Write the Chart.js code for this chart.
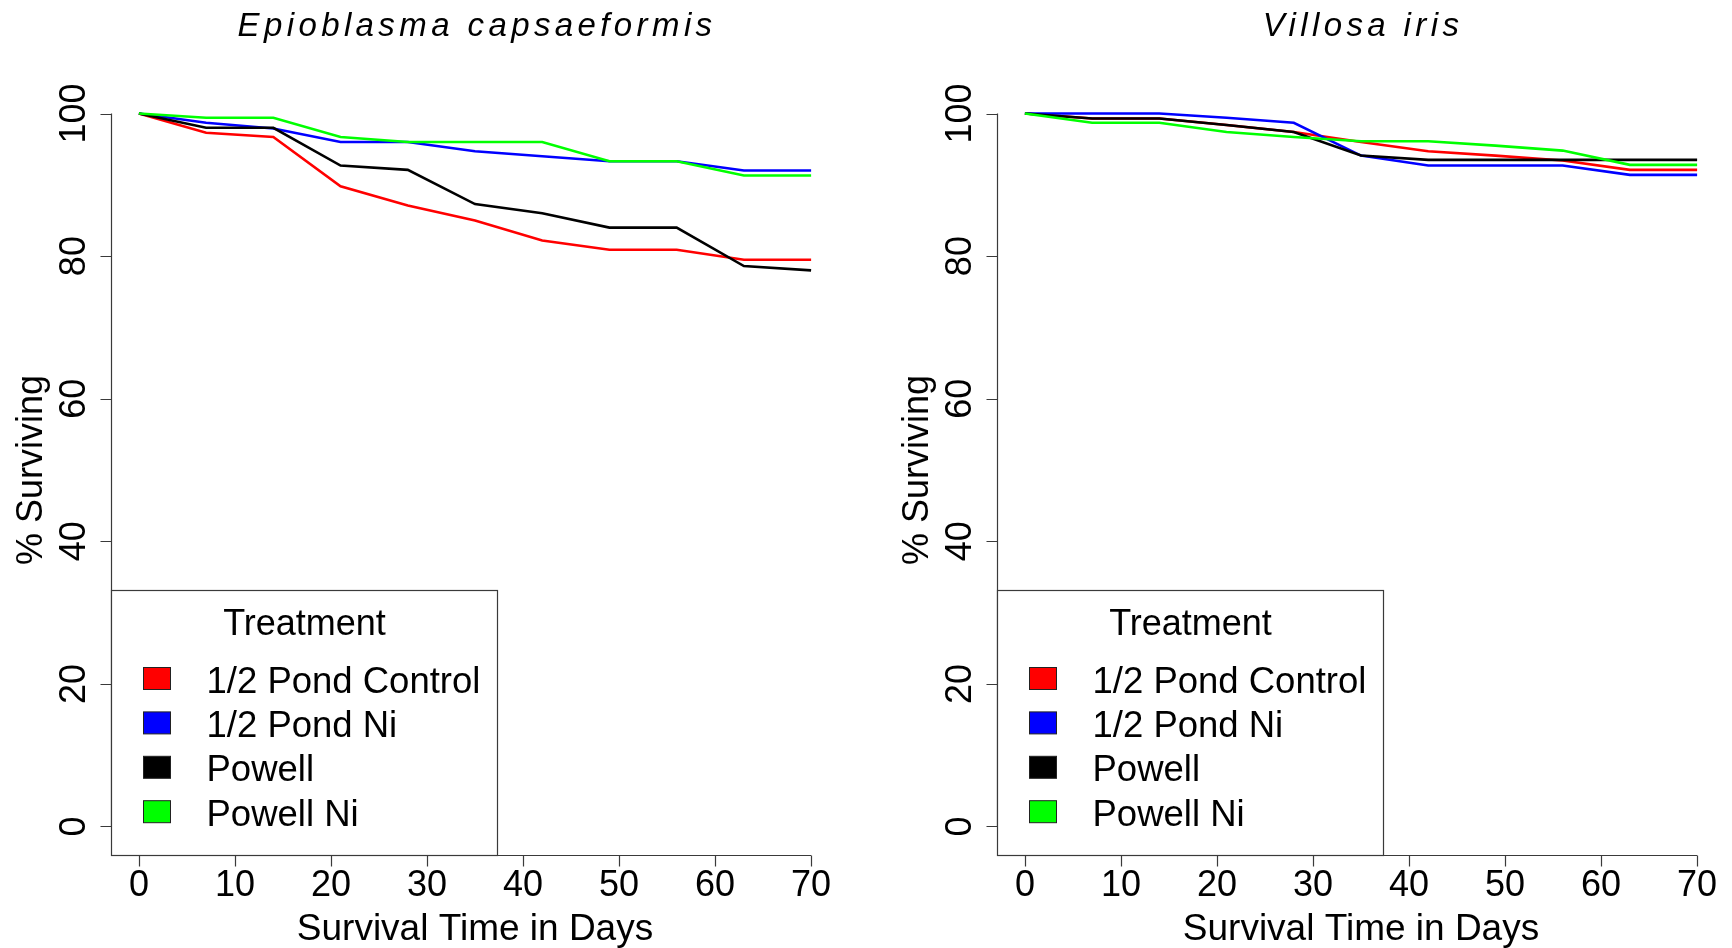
<!DOCTYPE html>
<html>
<head>
<meta charset="utf-8">
<script src="https://cdn.jsdelivr.net/npm/chart.js@4"></script>
<style>
  html, body { margin: 0; padding: 0; background: #fff; }
  .panel { position: absolute; top: 0; }
</style>
</head>
<body>
<canvas id="leftChart" class="panel" style="left:0px" width="866" height="948"></canvas>
<canvas id="rightChart" class="panel" style="left:866px" width="866" height="948"></canvas>
<script>
// survival sampled every week
const days = [0, 7, 14, 21, 28, 35, 42, 49, 56, 63, 70];
const treatments = ["1/2 Pond Control", "1/2 Pond Ni", "Powell", "Powell Ni"];
const lineColors = ["#ff0000", "#0000ff", "#000000", "#00ff00"];

// Epioblasma capsaeformis, % surviving
const epiControl  = [100, 97.3, 96.7, 89.8, 87.1, 85.0, 82.2, 80.9, 80.9, 79.5, 79.5];
const epiPondNi   = [100, 98.7, 97.9, 96.0, 96.0, 94.7, 94.0, 93.3, 93.3, 92.0, 92.0];
const epiPowell   = [100, 98.0, 98.0, 92.7, 92.1, 87.3, 86.0, 84.0, 84.0, 78.6, 78.0];
const epiPowellNi = [100, 99.4, 99.4, 96.7, 96.0, 96.0, 96.0, 93.3, 93.3, 91.3, 91.3];

// Villosa iris, % surviving
const vilControl  = [100, 99.3, 99.3, 98.4, 97.4, 96.0, 94.7, 94.1, 93.4, 92.1, 92.1];
const vilPondNi   = [100, 100, 100, 99.4, 98.7, 94.1, 92.7, 92.7, 92.7, 91.4, 91.4];
const vilPowell   = [100, 99.3, 99.3, 98.4, 97.4, 94.1, 93.5, 93.5, 93.5, 93.5, 93.5];
const vilPowellNi = [100, 98.7, 98.7, 97.4, 96.7, 96.1, 96.1, 95.5, 94.8, 92.8, 92.8];

const xTicks = [0, 10, 20, 30, 40, 50, 60, 70];
const yTicks = [0, 20, 40, 60, 80, 100];

const FONT = "'Liberation Sans', Arial, sans-serif";

// base-graphics look: axis lines only over the tick span, rotated y labels,
// legend box sitting in the bottom-left corner
const baseAxes = {
  id: "baseAxes",
  afterDraw(chart, args, opts) {
    const { ctx, chartArea: a } = chart;
    const x = chart.scales.x, y = chart.scales.y;
    const cx = (a.left + a.right) / 2;
    const cy = (a.top + a.bottom) / 2;
    ctx.save();
    ctx.strokeStyle = "#3a3a3a";
    ctx.lineWidth = 1.2;
    ctx.fillStyle = "#000";

    // x axis
    const xb = Math.round(a.bottom) + 0.5;
    ctx.beginPath();
    ctx.moveTo(x.getPixelForValue(xTicks[0]), xb);
    ctx.lineTo(x.getPixelForValue(xTicks[xTicks.length - 1]), xb);
    xTicks.forEach(t => {
      const px = Math.round(x.getPixelForValue(t)) + 0.5;
      ctx.moveTo(px, xb);
      ctx.lineTo(px, xb + 11);
    });
    // y axis
    const yl = Math.round(a.left) - 0.5;
    ctx.moveTo(yl, y.getPixelForValue(yTicks[0]));
    ctx.lineTo(yl, y.getPixelForValue(yTicks[yTicks.length - 1]));
    yTicks.forEach(t => {
      const py = Math.round(y.getPixelForValue(t)) + 0.5;
      ctx.moveTo(yl, py);
      ctx.lineTo(yl - 11, py);
    });
    ctx.stroke();

    ctx.font = "36px " + FONT;
    ctx.textAlign = "center";
    ctx.textBaseline = "alphabetic";
    xTicks.forEach(t => ctx.fillText(String(t), x.getPixelForValue(t), 896));
    yTicks.forEach(t => {
      ctx.save();
      ctx.translate(a.left - 27, y.getPixelForValue(t));
      ctx.rotate(-Math.PI / 2);
      ctx.fillText(String(t), 0, 0);
      ctx.restore();
    });

    // axis titles
    ctx.font = "37px " + FONT;
    ctx.fillText("Survival Time in Days", cx, 940);
    ctx.font = "36px " + FONT;
    ctx.save();
    ctx.translate(a.left - 70, cy);
    ctx.rotate(-Math.PI / 2);
    ctx.fillText("% Surviving", 0, 0);
    ctx.restore();

    // italic species title
    ctx.font = "italic 33px " + FONT;
    ctx.letterSpacing = "4.4px";
    ctx.fillText(opts.title, cx + 2, 36);
    ctx.letterSpacing = "0px";

    // legend
    const lx = Math.round(a.left) - 0.5, lw = 386, lh = 265;
    const ly = Math.round(a.bottom) + 0.5 - lh;
    ctx.fillStyle = "#fff";
    ctx.fillRect(lx, ly, lw, lh);
    ctx.strokeRect(lx, ly, lw, lh);
    ctx.fillStyle = "#000";
    ctx.font = "36px " + FONT;
    ctx.fillText("Treatment", lx + lw / 2, ly + 44);
    ctx.font = "36.5px " + FONT;
    ctx.textAlign = "left";
    treatments.forEach((name, i) => {
      const base = ly + 102 + i * 44.4;
      ctx.fillStyle = lineColors[i];
      ctx.fillRect(lx + 32, base - 25, 27, 22);
      ctx.strokeStyle = "#222";
      ctx.lineWidth = 1;
      ctx.strokeRect(lx + 32, base - 25, 27, 22);
      ctx.fillStyle = "#000";
      ctx.fillText(name, lx + 95, base);
    });
    ctx.restore();
  }
};

function survivalConfig(title, series, padLeft, padRight) {
  return {
    type: "line",
    data: {
      labels: days,
      datasets: series.map((vals, i) => ({
        label: treatments[i],
        data: days.map((d, k) => ({ x: d, y: vals[k] })),
        borderColor: lineColors[i],
        borderWidth: 2.6,
        pointRadius: 0,
        tension: 0,
        fill: false,
        order: series.length - i
      }))
    },
    options: {
      responsive: false,
      animation: false,
      events: [],
      layout: { padding: { left: padLeft, right: padRight, top: 85, bottom: 93 } },
      plugins: {
        legend: { display: false },
        tooltip: { enabled: false },
        baseAxes: { title }
      },
      scales: {
        x: { type: "linear", min: -2.8, max: 72.8, display: false },
        y: { type: "linear", min: -4, max: 104, display: false }
      }
    },
    plugins: [baseAxes]
  };
}

new Chart(document.getElementById("leftChart"),
  survivalConfig("Epioblasma capsaeformis", [epiControl, epiPondNi, epiPowell, epiPowellNi], 112, 28));
new Chart(document.getElementById("rightChart"),
  survivalConfig("Villosa iris", [vilControl, vilPondNi, vilPowell, vilPowellNi], 132, 8));
</script>
</body>
</html>
